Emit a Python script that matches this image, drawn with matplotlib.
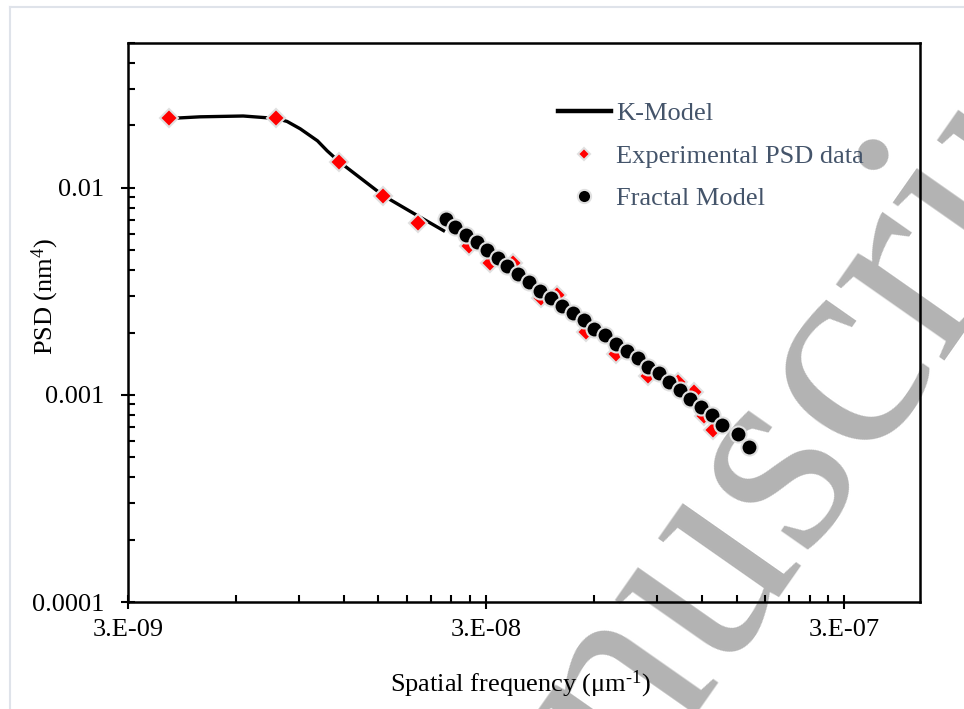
import matplotlib
matplotlib.use('Agg')
import matplotlib.pyplot as plt
from matplotlib.lines import Line2D
from matplotlib.ticker import FixedLocator, FixedFormatter, LogLocator, NullFormatter

plt.rcParams['font.family'] = ['Liberation Serif', 'DejaVu Serif']
plt.rcParams['mathtext.fontset'] = 'custom'
plt.rcParams['mathtext.rm'] = 'Liberation Serif'
plt.rcParams['mathtext.it'] = 'Liberation Serif:italic'

# K-Model curve
k_freq = [3.91e-9, 4.77e-9, 6.29e-9, 7.78e-9, 8.34e-9, 9.08e-9, 1.014e-8,
          1.079e-8, 1.167e-8, 1.55e-8, 1.93e-8, 2.28e-8]
k_psd = [0.0216, 0.0220, 0.0222, 0.0216, 0.0209, 0.01925, 0.01685,
         0.01508, 0.01334, 0.00915, 0.00733, 0.00621]

# experimental PSD data
exp_freq = [3.91e-9, 7.78e-9, 1.167e-8, 1.55e-8, 1.94e-8, 2.68e-8, 3.07e-8,
            3.56e-8, 4.26e-8, 4.72e-8, 5.69e-8, 6.91e-8, 8.49e-8, 1.03e-7,
            1.14e-7, 1.22e-7, 1.29e-7]
exp_psd = [0.0216, 0.0216, 0.01334, 0.00915, 0.00678, 0.00525, 0.00435,
           0.00435, 0.00295, 0.00305, 0.00202, 0.00157, 0.00123, 0.00116,
           0.00103, 0.000787, 0.000675]

# fractal model
fr_freq = [2.31e-8, 2.46e-8, 2.63e-8, 2.82e-8, 3.02e-8, 3.23e-8, 3.42e-8,
           3.68e-8, 3.95e-8, 4.24e-8, 4.55e-8, 4.88e-8, 5.23e-8, 5.61e-8,
           6.01e-8, 6.44e-8, 6.91e-8, 7.42e-8, 7.94e-8, 8.51e-8, 9.13e-8,
           9.74e-8, 1.04e-7, 1.11e-7, 1.19e-7, 1.28e-7, 1.37e-7, 1.51e-7,
           1.63e-7]
fr_psd = [0.00707, 0.00644, 0.00594, 0.00545, 0.00501, 0.00458, 0.00421,
          0.00384, 0.00350, 0.00319, 0.00294, 0.00270, 0.00248, 0.00229,
          0.00208, 0.00194, 0.00177, 0.00163, 0.00150, 0.00137, 0.00127,
          0.00115, 0.00106, 0.000959, 0.000873, 0.000796, 0.000713,
          0.000650, 0.000560]

x_ticks = [3e-9, 3e-8, 3e-7]
x_labels = ['3.E-09', '3.E-08', '3.E-07']
y_ticks = [1e-4, 1e-3, 1e-2]
y_labels = ['0.0001', '0.001', '0.01']

legend_color = '#44546a'
edge_grey = '#e0e0e0'

fig = plt.figure(figsize=(9.64, 7.09), dpi=100)
ax = fig.add_axes([0.1328, 0.1509, 0.8216, 0.7885])
ax.set_facecolor('none')

# outer chart-area frame (top and left visible)
fig.add_artist(Line2D([10 / 964, 1], [1 - 7 / 709, 1 - 7 / 709],
                      transform=fig.transFigure, color='#dfe3ea', lw=1.5))
fig.add_artist(Line2D([10 / 964, 10 / 964], [0, 1 - 7 / 709],
                      transform=fig.transFigure, color='#dfe3ea', lw=1.5))

# watermark
fig.text(0.432, -0.556, 'Manuscript', rotation=55, rotation_mode='anchor',
         ha='left', va='baseline', fontsize=207, color='#b3b3b3', zorder=-5)

ax.plot(k_freq, k_psd, '-', color='black', lw=2.4, solid_joinstyle='round',
        zorder=2)
ax.plot(exp_freq, exp_psd, 'D', color='red', ms=9, mec=edge_grey, mew=1.5,
        zorder=3)
ax.plot(fr_freq, fr_psd, 'o', color='black', ms=11.5, mec=edge_grey, mew=1.5,
        zorder=4)

ax.set_xscale('log')
ax.set_yscale('log')
ax.set_xlim(3e-9, 4.88e-7)
ax.set_ylim(1e-4, 0.05)

ax.xaxis.set_major_locator(FixedLocator(x_ticks))
ax.xaxis.set_major_formatter(FixedFormatter(x_labels))
x_minor = [3e-9 * k * 10 ** n for n in range(0, 3) for k in range(2, 10)]
ax.xaxis.set_minor_locator(FixedLocator(x_minor))
ax.xaxis.set_minor_formatter(NullFormatter())
ax.yaxis.set_major_locator(FixedLocator(y_ticks))
ax.yaxis.set_major_formatter(FixedFormatter(y_labels))
ax.yaxis.set_minor_locator(LogLocator(base=10, subs=range(2, 10)))
ax.yaxis.set_minor_formatter(NullFormatter())

ax.tick_params(which='major', direction='inout', length=10, width=1.5,
               labelsize=19, colors='black')
ax.tick_params(axis='x', which='major', pad=7)
ax.tick_params(axis='y', which='major', pad=12)
ax.tick_params(which='minor', direction='in', length=5, width=1.5)
ax.tick_params(top=False, right=False, which='both')
for s in ax.spines.values():
    s.set_linewidth(1.8)
    s.set_color('black')

ax.set_xlabel('Spatial frequency (μm$^{\u2010 1}$)', fontsize=19)
ax.set_ylabel('PSD (nm$^{4}$)', fontsize=19)
ax.xaxis.set_label_coords(0.496, -0.12)
ax.yaxis.set_label_coords(-0.084, 0.546)

handles = [
    Line2D([], [], color='black', lw=3.2),
    Line2D([], [], ls='none', marker='D', color='red', ms=6, mec=edge_grey,
           mew=1.5),
    Line2D([], [], ls='none', marker='o', color='black', ms=9.5, mec=edge_grey,
           mew=1.5),
]
labels = ['K-Model', 'Experimental PSD data', 'Fractal Model']
leg = ax.legend(handles, labels, loc='upper left',
                bbox_to_anchor=(558 / 964, 1 - 102 / 709),
                bbox_transform=fig.transFigure, frameon=False, fontsize=19,
                borderpad=0, borderaxespad=0, handlelength=2.0,
                handletextpad=0.2, labelspacing=0.72)
for t in leg.get_texts():
    t.set_color(legend_color)

fig.savefig('out.png', dpi=100)
